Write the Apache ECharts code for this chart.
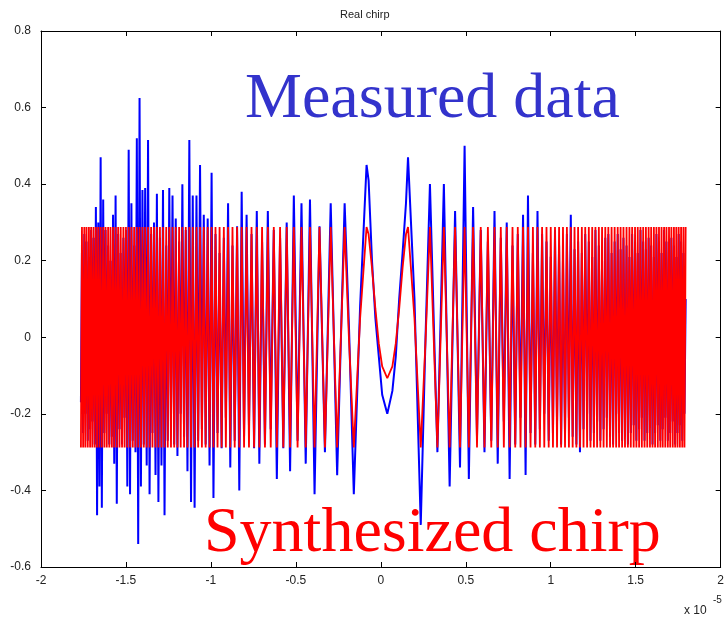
<!DOCTYPE html>
<html>
<head>
<meta charset="utf-8">
<script src="https://cdn.jsdelivr.net/npm/echarts@6/dist/echarts.min.js"></script>
<style>
html,body{margin:0;padding:0;background:#fff;}
#c{width:727px;height:620px;}
</style>
</head>
<body>
<div id="c"></div>
<script>
// time axis (units of 1e-5), shared by both series
const tArr = [
-1.765,-1.759,-1.752,-1.745,-1.739,-1.732,-1.725,-1.718,-1.711,-1.705,
-1.698,-1.691,-1.684,-1.677,-1.670,-1.663,-1.656,-1.649,-1.642,-1.634,
-1.627,-1.620,-1.613,-1.605,-1.598,-1.591,-1.583,-1.576,-1.569,-1.561,
-1.554,-1.546,-1.538,-1.531,-1.523,-1.515,-1.508,-1.500,-1.492,-1.484,
-1.476,-1.468,-1.460,-1.452,-1.444,-1.436,-1.428,-1.420,-1.412,-1.403,
-1.395,-1.387,-1.378,-1.370,-1.361,-1.352,-1.344,-1.335,-1.326,-1.318,
-1.309,-1.300,-1.291,-1.282,-1.273,-1.263,-1.254,-1.245,-1.235,-1.226,
-1.216,-1.207,-1.197,-1.187,-1.178,-1.168,-1.158,-1.148,-1.138,-1.127,
-1.117,-1.107,-1.096,-1.085,-1.075,-1.064,-1.053,-1.042,-1.031,-1.019,
-1.008,-0.996,-0.985,-0.973,-0.961,-0.949,-0.937,-0.924,-0.912,-0.899,
-0.886,-0.873,-0.860,-0.846,-0.833,-0.819,-0.805,-0.790,-0.776,-0.761,
-0.746,-0.730,-0.715,-0.699,-0.682,-0.665,-0.648,-0.630,-0.612,-0.593,
-0.574,-0.554,-0.534,-0.512,-0.490,-0.467,-0.442,-0.417,-0.390,-0.361,
-0.329,-0.295,-0.257,-0.213,-0.187,-0.159,-0.122,-0.084,
-0.072,-0.052,-0.032,-0.012,0.008,0.038,0.068,0.088,0.108,0.128,0.148,
0.160,0.198,0.235,0.263,0.289,
0.333,0.371,0.405,0.437,0.466,0.493,0.518,0.543,0.566,0.588,
0.610,0.630,0.650,0.669,0.688,0.706,0.724,0.741,0.758,0.775,
0.791,0.806,0.822,0.837,0.852,0.866,0.881,0.895,0.909,0.922,
0.936,0.949,0.962,0.975,0.988,1.000,1.013,1.025,1.037,1.049,
1.061,1.072,1.084,1.095,1.107,1.118,1.129,1.140,1.151,1.161,
1.172,1.183,1.193,1.203,1.214,1.224,1.234,1.244,1.254,1.263,
1.273,1.283,1.292,1.302,1.311,1.321,1.330,1.339,1.349,1.358,
1.367,1.376,1.385,1.394,1.402,1.411,1.420,1.428,1.437,1.446,
1.454,1.463,1.471,1.479,1.488,1.496,1.504,1.512,1.520,1.528,
1.536,1.544,1.552,1.560,1.568,1.576,1.584,1.591,1.599,1.607,
1.614,1.622,1.630,1.637,1.645,1.652,1.659,1.667,1.674,1.681,
1.689,1.696,1.703,1.710,1.718,1.725,1.732,1.739,1.746,1.753,
1.760,1.767,1.774,1.781,1.787,1.794
];

// synthesized chirp (red)
const synthChirp = [
-0.288,0.288,-0.288,0.288,-0.288,0.288,-0.288,0.288,-0.288,0.288,
-0.288,0.288,-0.288,0.288,-0.288,0.288,-0.288,0.288,-0.288,0.288,
-0.288,0.288,-0.288,0.288,-0.288,0.288,-0.288,0.288,-0.288,0.288,
-0.288,0.288,-0.288,0.288,-0.288,0.288,-0.288,0.288,-0.288,0.288,
-0.288,0.288,-0.288,0.288,-0.288,0.288,-0.288,0.288,-0.288,0.288,
-0.288,0.288,-0.288,0.288,-0.288,0.288,-0.288,0.288,-0.288,0.288,
-0.288,0.288,-0.288,0.288,-0.288,0.288,-0.288,0.288,-0.288,0.288,
-0.288,0.288,-0.288,0.288,-0.288,0.288,-0.288,0.288,-0.288,0.288,
-0.288,0.288,-0.288,0.288,-0.288,0.288,-0.288,0.288,-0.288,0.288,
-0.288,0.288,-0.288,0.288,-0.288,0.288,-0.288,0.288,-0.288,0.288,
-0.288,0.288,-0.288,0.288,-0.288,0.288,-0.288,0.288,-0.288,0.288,
-0.288,0.288,-0.288,0.288,-0.288,0.288,-0.288,0.288,-0.288,0.288,
-0.288,0.288,-0.288,0.288,-0.288,0.288,-0.288,0.288,-0.288,0.288,
-0.288,0.288,-0.288,0.288,-0.010,-0.288,0.049,0.288,
0.269,0.181,0.074,-0.016,-0.076,-0.107,-0.076,-0.016,0.074,0.181,0.269,
0.288,0.049,-0.288,-0.010,0.288,
-0.288,0.288,-0.288,0.288,-0.288,0.288,-0.288,0.288,-0.288,0.288,
-0.288,0.288,-0.288,0.288,-0.288,0.288,-0.288,0.288,-0.288,0.288,
-0.288,0.288,-0.288,0.288,-0.288,0.288,-0.288,0.288,-0.288,0.288,
-0.288,0.288,-0.288,0.288,-0.288,0.288,-0.288,0.288,-0.288,0.288,
-0.288,0.288,-0.288,0.288,-0.288,0.288,-0.288,0.288,-0.288,0.288,
-0.288,0.288,-0.288,0.288,-0.288,0.288,-0.288,0.288,-0.288,0.288,
-0.288,0.288,-0.288,0.288,-0.288,0.288,-0.288,0.288,-0.288,0.288,
-0.288,0.288,-0.288,0.288,-0.288,0.288,-0.288,0.288,-0.288,0.288,
-0.288,0.288,-0.288,0.288,-0.288,0.288,-0.288,0.288,-0.288,0.288,
-0.288,0.288,-0.288,0.288,-0.288,0.288,-0.288,0.288,-0.288,0.288,
-0.288,0.288,-0.288,0.288,-0.288,0.288,-0.288,0.288,-0.288,0.288,
-0.288,0.288,-0.288,0.288,-0.288,0.288,-0.288,0.288,-0.288,0.288,
-0.288,0.288,-0.288,0.288,-0.288,0.288
];

// measured data (blue)
const measured = [
-0.17,0.22,-0.25,0.27,-0.2,0.25,-0.27,0.2,-0.24,0.28,
-0.22,0.26,-0.28,0.34,-0.465,0.3,-0.39,0.47,-0.445,0.36,
-0.25,0.28,-0.2,0.24,-0.28,0.2,-0.26,0.32,-0.33,0.37,
-0.435,0.27,-0.24,0.22,-0.28,0.26,-0.21,0.28,-0.39,0.49,
-0.41,0.35,-0.27,0.24,-0.3,0.52,-0.54,0.625,-0.39,0.385,
-0.28,0.39,-0.335,0.515,-0.41,0.27,-0.25,0.3,-0.36,0.375,
-0.43,0.26,-0.335,0.385,-0.465,0.24,-0.27,0.39,-0.22,0.37,
-0.28,0.31,-0.31,0.25,-0.2,0.4,-0.26,0.28,-0.35,0.515,
-0.43,0.37,-0.445,0.37,-0.27,0.45,-0.24,0.32,-0.28,0.31,
-0.335,0.43,-0.42,0.27,-0.25,0.22,-0.29,0.26,-0.21,0.35,
-0.34,0.24,-0.27,0.29,-0.4,0.38,-0.26,0.32,-0.23,0.27,
-0.29,0.33,-0.33,0.25,-0.28,0.33,-0.24,0.28,-0.37,0.26,
-0.29,0.3,-0.35,0.37,-0.27,0.35,-0.33,0.36,-0.41,0.29,
-0.3,0.35,-0.36,0.35,0.02,-0.41,0.08,0.45,
0.41,0.2,0.05,-0.05,-0.15,-0.2,-0.14,-0.05,0.1,0.22,0.35,
0.47,0.1,-0.49,0.0,0.40,
-0.3,0.40,-0.39,0.33,-0.34,0.50,-0.37,0.34,-0.26,0.28,
-0.30,0.25,-0.27,0.33,-0.33,0.26,-0.22,0.30,-0.37,0.24,
-0.28,0.27,-0.21,0.32,-0.36,0.37,-0.25,0.22,-0.28,0.33,
-0.24,0.27,-0.2,0.25,-0.27,0.21,-0.25,0.28,-0.22,0.24,
-0.28,0.2,-0.25,0.27,-0.21,0.32,-0.26,0.23,-0.28,0.25,
-0.30,0.22,-0.24,0.27,-0.2,0.25,-0.27,0.21,-0.25,0.28,
-0.22,0.24,-0.27,0.2,-0.24,0.26,-0.21,0.27,-0.26,0.22,
-0.28,0.25,-0.2,0.27,-0.25,0.23,-0.27,0.26,-0.22,0.24,
-0.28,0.21,-0.25,0.27,-0.23,0.25,-0.27,0.22,-0.24,0.28,
-0.21,0.25,-0.27,0.23,-0.25,0.26,-0.22,0.24,-0.28,0.21,
-0.25,0.27,-0.23,0.25,-0.27,0.22,-0.24,0.28,-0.21,0.25,
-0.27,0.23,-0.25,0.26,-0.22,0.24,-0.28,0.21,-0.25,0.27,
-0.23,0.25,-0.27,0.22,-0.2,0.1
];

const xTicks = [-2,-1.5,-1,-0.5,0,0.5,1,1.5,2];
const yTicks = [-0.6,-0.4,-0.2,0,0.2,0.4,0.6,0.8];

const chart = echarts.init(document.getElementById('c'), null, {renderer:'canvas'});
const lblFont = {color:'#222', fontSize:12, fontFamily:'Liberation Sans, Arial, sans-serif'};
const fmt = v => String(+(+v).toFixed(2));
const axCommon = {
  axisLine:{show:true, onZero:false, lineStyle:{color:'#000', width:1}},
  axisTick:{show:true, inside:true, length:5, lineStyle:{color:'#000'}},
  splitLine:{show:false}
};
const option = {
  animation:false,
  backgroundColor:'#fff',
  grid:{left:41, right:5, top:31, bottom:53},
  xAxis:[
    Object.assign({type:'value', min:xTicks[0], max:xTicks[xTicks.length-1], interval:0.5, position:'bottom',
      axisLabel:Object.assign({margin:8, formatter:fmt}, lblFont)}, axCommon),
    Object.assign({type:'value', min:xTicks[0], max:xTicks[xTicks.length-1], interval:0.5, position:'top',
      axisLabel:{show:false}}, axCommon)
  ],
  yAxis:[
    Object.assign({type:'value', min:yTicks[0], max:yTicks[yTicks.length-1], interval:0.2, position:'left',
      axisLabel:Object.assign({margin:10, formatter:fmt}, lblFont)}, axCommon),
    Object.assign({type:'value', min:yTicks[0], max:yTicks[yTicks.length-1], interval:0.2, position:'right',
      axisLabel:{show:false}}, axCommon)
  ],
  series:[
    {name:'Measured data', type:'line', xAxisIndex:0, yAxisIndex:0, showSymbol:false, symbol:'none',
      clip:true,
      lineStyle:{color:'#0000ff', width:2}, data:tArr.map((t,i)=>[t, measured[i]])},
    {name:'Synthesized chirp', type:'line', xAxisIndex:0, yAxisIndex:0, showSymbol:false, symbol:'none',
      clip:true,
      lineStyle:{color:'#ff0000', width:1.8}, data:tArr.map((t,i)=>[t, synthChirp[i]])}
  ],
  graphic:[
    {type:'text', left:340, top:9, style:{text:'Real chirp', fill:'#222', font:'11px "Liberation Sans", Arial, sans-serif'}},
    {type:'text', x:245, y:100, style:{text:'Measured data', fill:'#3333cc', font:'64px "Liberation Serif", "Times New Roman", serif', verticalAlign:'middle'}},
    {type:'text', x:204, y:534, style:{text:'Synthesized chirp', fill:'#ff0000', font:'64px "Liberation Serif", "Times New Roman", serif', verticalAlign:'middle'}},
    {type:'text', x:684, y:605, style:{text:'x 10', fill:'#222', font:'12px "Liberation Sans", Arial, sans-serif'}},
    {type:'text', x:713, y:595, style:{text:'-5', fill:'#222', font:'10px "Liberation Sans", Arial, sans-serif'}}
  ]
};
chart.setOption(option);
</script>
</body>
</html>
